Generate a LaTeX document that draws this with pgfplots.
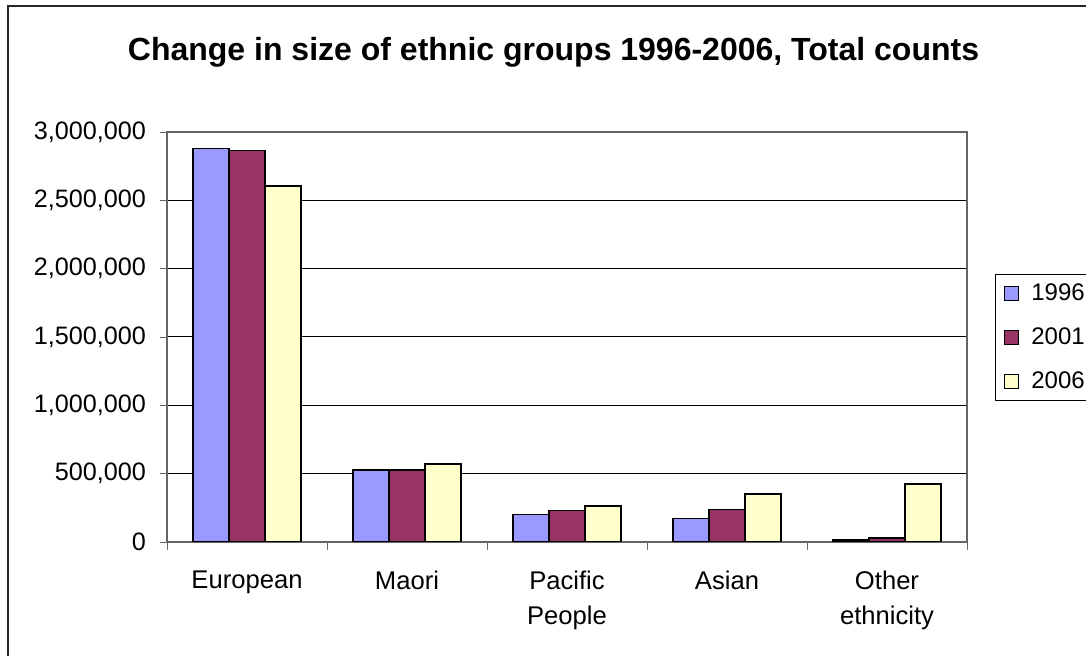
\documentclass[border=0pt]{standalone}
\usepackage{pgfplots}
\pgfplotsset{compat=1.18}
\usepackage{fontspec}
\setmainfont{Liberation Sans}
\definecolor{c96}{HTML}{9999FF}
\definecolor{c01}{HTML}{993366}
\definecolor{c06}{HTML}{FFFFCC}
\begin{document}
\begin{tikzpicture}
\begin{axis}[
  at={(83.5pt,57pt)}, anchor=south west,
  scale only axis, width=400pt, height=205pt,
  ybar=0pt, bar width=18pt,
  xmin=-0.5, xmax=4.5, ymin=0, ymax=3000000,
  tick pos=left,
  xtick={0,1,2,3,4},
  xticklabels={European, Maori, {Pacific\\People}, Asian, {Other\\ethnicity}},
  major x tick style={draw=none},
  minor xtick={-0.5,0.5,1.5,2.5,3.5,4.5},
  minor x tick style={gray!80!black, thin},
  tick align=outside,
  minor tick length=4pt,
  major tick length=3.5pt,
  ytick={0,500000,1000000,1500000,2000000,2500000,3000000},
  scaled y ticks=false,
  /pgf/number format/assume math mode=true,
  /pgf/number format/fixed,
  /pgf/number format/1000 sep={,},
  ymajorgrids, grid style={black, line width=0.5pt},
  y tick style={gray!80!black, thin},
  axis line style={gray!80!black, line width=0.7pt},
  yticklabel style={font=\fontsize{12.6}{15}\selectfont, xshift=-3.5pt},
  xticklabel style={font=\fontsize{12.8}{17.5}\selectfont, align=center, yshift=-7.5pt},
  legend style={at={(1.035,0.654)}, anchor=north west, draw=black, thin,
    font=\fontsize{12}{14}\selectfont, row sep=8.2pt, inner xsep=4.5pt, inner ysep=2.5pt,
    cells={anchor=west}, /tikz/every odd column/.append style={column sep=4pt}},
  legend image code/.code={\draw[#1, line width=0.5pt] (0pt,-3.5pt) rectangle (7pt,3.5pt);},
  every axis plot/.append style={draw=black, line width=0.75pt},
]
\addplot[fill=c96] coordinates {(0,2881000) (1,525000) (2,202000) (3,173000) (4,14000)};
\addplot[fill=c01] coordinates {(0,2866000) (1,525000) (2,232000) (3,236000) (4,28000)};
\addplot[fill=c06] coordinates {(0,2603000) (1,569000) (2,265000) (3,352000) (4,425000)};
\legend{1996,2001,2006}
\end{axis}
\node[font=\bfseries\fontsize{16}{19}\selectfont] at (276.75pt,302pt) {Change in size of ethnic groups 1996-2006, Total counts};
\draw[black!85, line width=0.7pt] (4pt,0pt) -- (4pt,325pt) -- (543pt,325pt);
\pgfresetboundingbox
\useasboundingbox (0pt,0pt) rectangle (543pt,328pt);
\end{tikzpicture}
\end{document}
